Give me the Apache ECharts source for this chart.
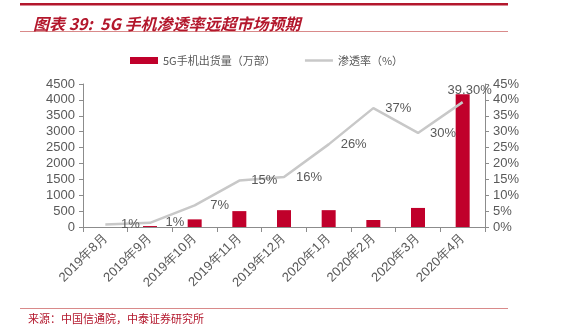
<!DOCTYPE html>
<html><head><meta charset="utf-8">
<script src="https://cdn.jsdelivr.net/npm/echarts@6/dist/echarts.min.js"></script>
<style>html,body{margin:0;padding:0;background:#fff}#c{width:565px;height:330px}</style>
</head><body><div id="c"></div>
<script>
var categories = ['2019年8月','2019年9月','2019年10月','2019年11月','2019年12月','2020年1月','2020年2月','2020年3月','2020年4月'];
var shipments = [0, 30, 240, 500, 530, 530, 220, 600, 4180];
var penetration = [0.8, 1.3, 6.8, 14.6, 15.7, 26, 37.4, 29.6, 39.3];
var penLabels = ['1%','1%','7%','15%','16%','26%','37%','30%','39.30%'];
var leftTicks = [0, 4500, 500];
var rightTicks = [0, 45, 5];

var chart = echarts.init(document.getElementById('c'));
var red = '#c0002b';
var txt = '#595959';
var lineData = penetration.map(function(v, i){
  var last = i === penetration.length - 1;
  return {value: v, label: {show: true, formatter: penLabels[i],
    position: last ? 'top' : 'inside', offset: last ? [7, 0] : [25, 0]}};
});
chart.setOption({
  animation: false,
  textStyle: {fontFamily: 'Liberation Sans, Arial, sans-serif'},
  title: {text: '图表 39:  5G 手机渗透率远超市场预期', left: 28, top: 11,
    textStyle: {color: '#b3172c', fontSize: 16, fontWeight: 'bold', fontStyle: 'italic', fontFamily: 'Noto Sans CJK SC, sans-serif'}},
  graphic: [
    {type: 'rect', shape: {x: 20, y: 3, width: 488, height: 2.5}, style: {fill: '#b3172c'}},
    {type: 'line', shape: {x1: 20, y1: 31.5, x2: 508, y2: 31.5}, style: {stroke: '#d98a8a', lineWidth: 1}},
    {type: 'line', shape: {x1: 20, y1: 308.5, x2: 508, y2: 308.5}, style: {stroke: '#d98a8a', lineWidth: 1}},
    {type: 'text', left: 28, top: 313, style: {text: '来源：中国信通院，中泰证券研究所', fill: '#b3172c', fontSize: 11, fontFamily: 'Noto Sans CJK SC, sans-serif'}}
  ],
  legend: {top: 50, left: 125, itemGap: 28, itemWidth: 28, itemHeight: 7,
    textStyle: {color: txt, fontSize: 11, fontFamily: 'Noto Sans CJK SC, sans-serif'},
    data: [{name: '5G手机出货量（万部）', icon: 'rect'},
           {name: '渗透率（%）', itemStyle: {opacity: 0}, lineStyle: {color: '#c8c8c8', width: 2.5}}]},
  grid: {left: 83, right: 80, top: 84, bottom: 103},
  xAxis: {type: 'category', data: categories,
    axisLine: {lineStyle: {color: '#8c8c8c'}},
    axisTick: {show: true, lineStyle: {color: '#8c8c8c'}, length: 5},
    axisLabel: {rotate: 45, color: txt, fontSize: 13, margin: 9}},
  yAxis: [
    {type: 'value', min: leftTicks[0], max: leftTicks[1], interval: leftTicks[2],
     splitLine: {show: false},
     axisLine: {show: true, lineStyle: {color: '#8c8c8c'}},
     axisTick: {show: true, length: 4, lineStyle: {color: '#8c8c8c'}},
     axisLabel: {color: txt, fontSize: 13, margin: 8, formatter: function(v){return String(v);}}},
    {type: 'value', min: rightTicks[0], max: rightTicks[1], interval: rightTicks[2],
     splitLine: {show: false},
     axisLine: {show: true, lineStyle: {color: '#8c8c8c'}},
     axisTick: {show: true, length: 4, lineStyle: {color: '#8c8c8c'}},
     axisLabel: {color: txt, fontSize: 13, margin: 8, formatter: '{value}%'}}
  ],
  series: [
    {name: '5G手机出货量（万部）', type: 'bar', data: shipments, barWidth: 14,
     itemStyle: {color: red}},
    {name: '渗透率（%）', type: 'line', yAxisIndex: 1, data: lineData,
     symbol: 'circle', symbolSize: 1, showSymbol: true,
     lineStyle: {color: '#c8c8c8', width: 2.5}, itemStyle: {color: 'rgba(200,200,200,0)'},
     label: {show: true, color: txt, fontSize: 13}}
  ]
});
</script></body></html>
